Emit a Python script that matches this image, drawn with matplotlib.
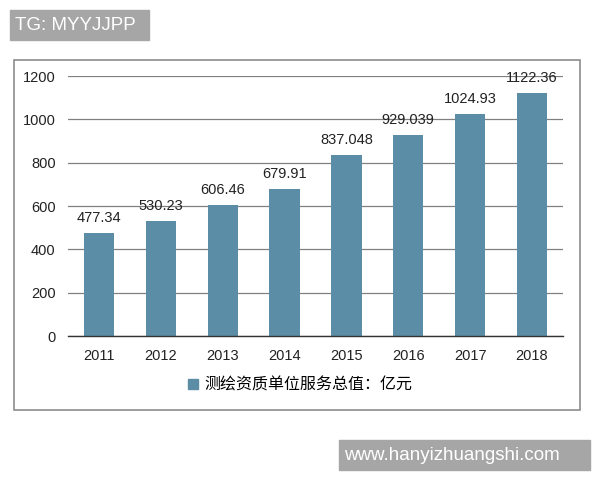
import matplotlib

matplotlib.use("Agg")
import matplotlib.pyplot as plt
from matplotlib.patches import Patch, Rectangle

plt.rcParams["font.family"] = ["Liberation Sans", "Noto Sans CJK SC", "DejaVu Sans"]

years = ["2011", "2012", "2013", "2014", "2015", "2016", "2017", "2018"]
values = [477.34, 530.23, 606.46, 679.91, 837.048, 929.039, 1024.93, 1122.36]
value_labels = ["477.34", "530.23", "606.46", "679.91", "837.048", "929.039", "1024.93", "1122.36"]
y_ticks = [0, 200, 400, 600, 800, 1000, 1200]
legend_label = "测绘资质单位服务总值：亿元"

BAR = "#5B8EA6"
W, H = 600, 480

fig = plt.figure(figsize=(6, 4.8), dpi=100)
fig.patch.set_facecolor("white")

# outer frame around the chart
fig.add_artist(Rectangle((14 / W, 1 - 410 / H), 566 / W, 350 / H,
                         transform=fig.transFigure, fill=False,
                         edgecolor="#8C8C8C", linewidth=1.2))

ax = fig.add_axes([68 / W, 1 - 336 / H, 495 / W, 260 / H])
x = range(len(years))
ax.bar(x, values, width=0.49, color=BAR)
for xi, v, lab in zip(x, values, value_labels):
    ax.text(xi, v + 36, lab, ha="center", va="bottom", fontsize=10.5, color="#222222")

ax.set_xlim(-0.5, len(years) - 0.5)
ax.set_ylim(0, 1200)
ax.set_yticks(y_ticks)
ax.set_xticks(list(x), years)
ax.tick_params(axis="both", length=0, labelsize=10.5, colors="#222222")
ax.tick_params(axis="y", pad=9)
ax.tick_params(axis="x", pad=9)
ax.grid(axis="y", color="#808080", linewidth=0.9)
ax.set_axisbelow(True)
for side in ("top", "right", "left"):
    ax.spines[side].set_visible(False)
ax.spines["bottom"].set_color("#333333")
ax.spines["bottom"].set_linewidth(1.0)

fig.legend(handles=[Patch(color=BAR, label=legend_label)],
           loc="center", bbox_to_anchor=(0.5, 1 - 385 / H),
           frameon=False, fontsize=11.5, handlelength=0.6, handleheight=0.6,
           handletextpad=0.4)

# watermark boxes
fig.add_artist(Rectangle((10 / W, 1 - 40 / H), 139 / W, 30 / H,
                         transform=fig.transFigure, color="#A6A6A6"))
fig.text(15 / W, 1 - 25 / H, "TG: MYYJJPP", color="white", fontsize=13.5,
         ha="left", va="center")
fig.add_artist(Rectangle((339 / W, 1 - 470 / H), 251 / W, 30 / H,
                         transform=fig.transFigure, color="#A6A6A6"))
fig.text(344 / W, 1 - 455 / H, "www.hanyizhuangshi.com", color="white",
         fontsize=13.5, ha="left", va="center")

fig.savefig("out.png", dpi=100)
